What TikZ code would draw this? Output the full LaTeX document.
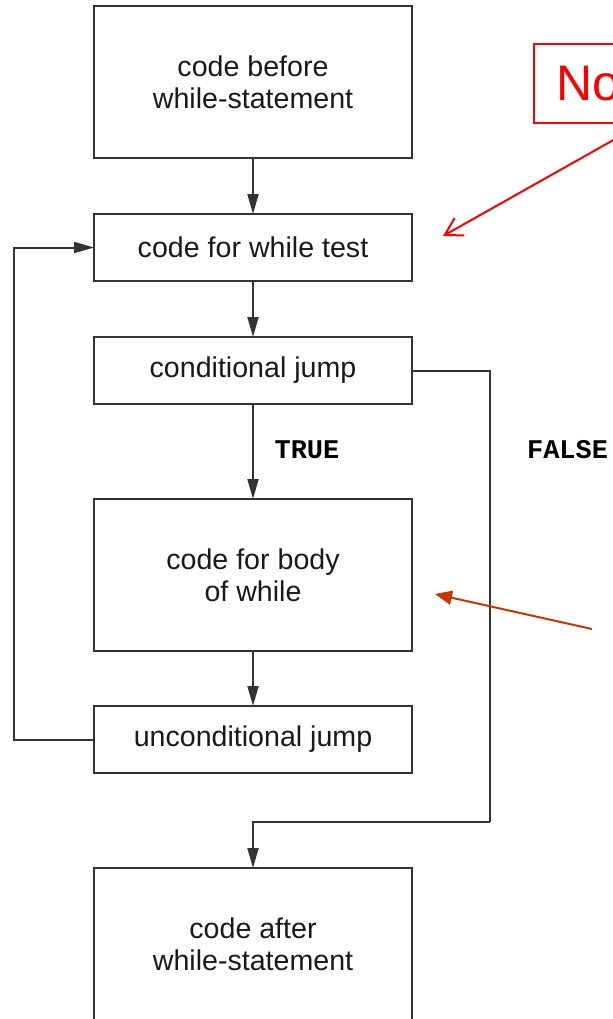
\documentclass[tikz,border=0pt]{standalone}
\usepackage{fontspec}
\setmainfont{Liberation Sans}
\newfontfamily\codefont{Liberation Mono}
\usetikzlibrary{positioning,arrows.meta}
\definecolor{lineg}{HTML}{333333}
\definecolor{notered}{HTML}{FF0000}
\definecolor{rustred}{HTML}{CC3300}
\tikzset{
  block/.style={draw=lineg, line width=1pt, outer sep=0pt, minimum width=159pt, align=center,
    font=\fontsize{14.3pt}{16pt}\selectfont, text=black!90},
  tallblock/.style={block, minimum height=76pt},
  flatblock/.style={block, minimum height=33.5pt},
  flow/.style={draw=lineg, line width=1pt, -{Triangle[length=10pt,width=5.5pt]}},
  wire/.style={draw=lineg, line width=1pt},
  branch/.style={font=\codefont\bfseries\fontsize{13.5pt}{14pt}\selectfont},
  notebox/.style={draw=notered, line width=1pt, text=notered, anchor=north west,
    minimum height=39.5pt, text width=100pt, align=left, inner xsep=11pt,
    font=\fontsize{25pt}{28pt}\selectfont},
  notearrow/.style={draw=notered, line width=1pt, -{Straight Barb[length=8.5pt,width=10pt]}},
  bodyarrow/.style={draw=rustred, line width=1pt, -{Triangle[length=8.5pt,width=7pt]}}
}
\begin{document}
\begin{tikzpicture}[x=0.5pt,y=-0.5pt]
\clip (0,0) rectangle (613,1019);
\node[tallblock] (before) at (253,82) {code before\\while-statement};
\node[flatblock, below=28pt of before] (test) {code for while test};
\node[flatblock, below=28pt of test] (cond) {conditional jump};
\node[tallblock, below=47.5pt of cond] (body) {code for body\\of while};
\node[flatblock, below=27.5pt of body] (unc) {unconditional jump};
\node[tallblock, below=47.5pt of unc] (after) {code after\\while-statement};
\node[branch] (true) at (307,450) {TRUE};
\node[branch, anchor=west] (false) at (520,450) {FALSE};
\coordinate (fbend) at (490,822);
\draw[flow] (before) -- (test);
\draw[flow] (test) -- (cond);
\draw[flow] (cond) -- (body);
\draw[flow] (body) -- (unc);
\draw[flow] (unc.west) -- ++(-80,0) |- (test.west);
\draw[wire] (cond.east) -| (fbend);
\draw[flow] (fbend) -| (after.north);
% red remarks
\node[notebox] (note) at (533,43) {No};
\coordinate (notetail) at (640,125);
\coordinate (notetip) at (443,236);
\draw[notearrow] (notetail) -- (notetip);
\coordinate (bodytail) at (592,629);
\coordinate (bodytip) at (435,594);
\draw[bodyarrow] (bodytail) -- (bodytip);
\end{tikzpicture}
\end{document}
